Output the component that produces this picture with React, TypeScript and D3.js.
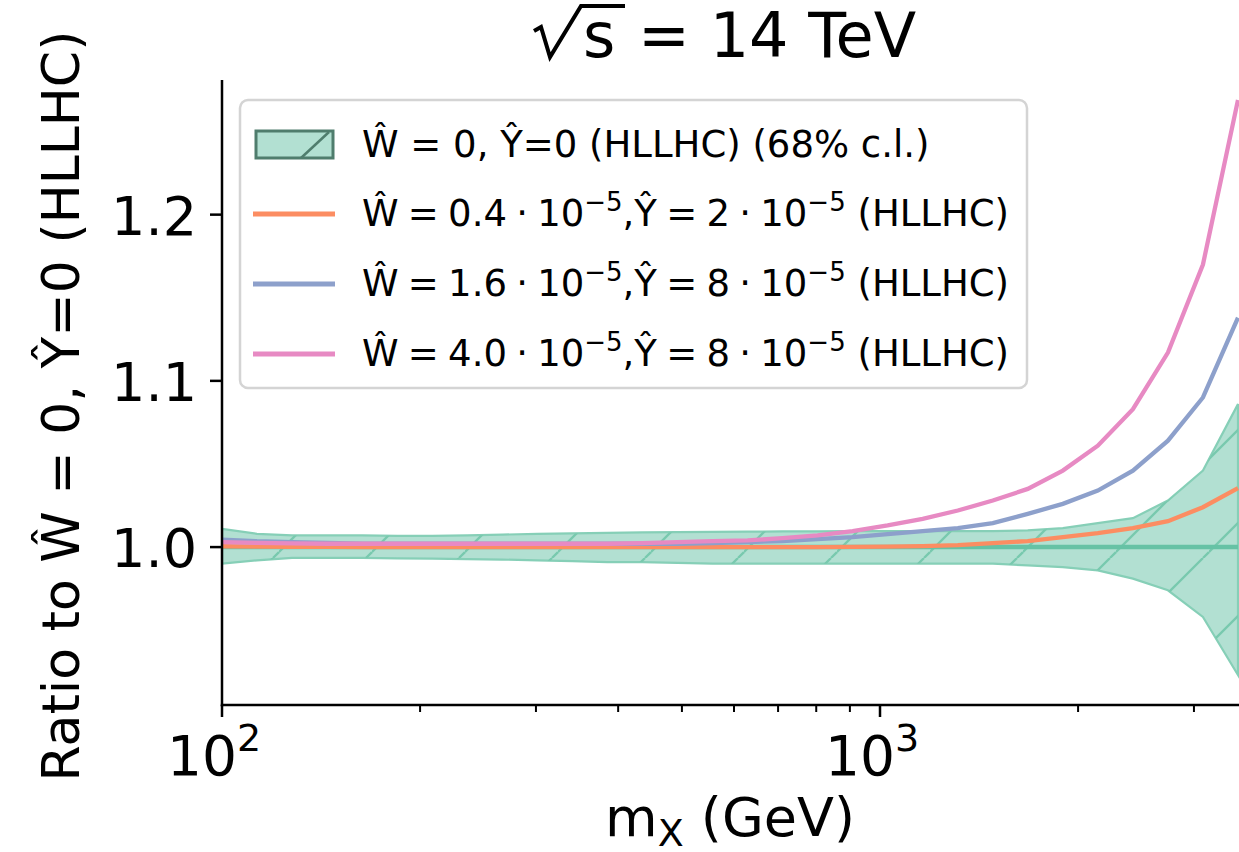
import React from "react";
import * as d3 from "d3";

// x nodes (GeV)
const massPoints = [100, 113.0, 127.8, 144.5, 163.3, 184.6, 208.7, 235.9, 266.6, 301.4, 340.7, 385.2, 435.4, 492.2, 556.4, 629.0, 711.0, 803.7, 908.6, 1027, 1161, 1313, 1484, 1677, 1896, 2143, 2423, 2739, 3096, 3500];

// 68% c.l. band of the SM (W=0, Y=0) ratio
const bandUpper = [1.011, 1.008, 1.007, 1.007, 1.007, 1.0068, 1.0068, 1.007, 1.0075, 1.008, 1.0082, 1.0085, 1.0088, 1.009, 1.0092, 1.0093, 1.0094, 1.0095, 1.0096, 1.0096, 1.0096, 1.0096, 1.0096, 1.010, 1.0114, 1.0144, 1.0174, 1.028, 1.046, 1.086];
const bandLower = [0.990, 0.992, 0.9935, 0.9935, 0.9935, 0.9932, 0.993, 0.9928, 0.9925, 0.992, 0.9915, 0.991, 0.991, 0.9905, 0.990, 0.990, 0.990, 0.990, 0.990, 0.990, 0.990, 0.990, 0.990, 0.989, 0.988, 0.986, 0.981, 0.974, 0.958, 0.923];
const centralRatio = [1, 1, 1, 1, 1, 1, 1, 1, 1, 1, 1, 1, 1, 1, 1, 1, 1, 1, 1, 1, 1, 1, 1, 1, 1, 1, 1, 1, 1, 1];

const orangeRatio = [1.0005, 1.0003, 1.0002, 1.0001, 1.0, 1.0, 1.0, 1.0, 1.0, 1.0, 1.0, 1.0, 1.0, 1.0, 1.0, 1.0, 1.0, 1.0, 1.0001, 1.0003, 1.0006, 1.0012, 1.0024, 1.0036, 1.006, 1.0084, 1.0114, 1.0156, 1.024, 1.0355];
const blueRatio = [1.0045, 1.0035, 1.003, 1.0025, 1.002, 1.002, 1.002, 1.002, 1.002, 1.002, 1.002, 1.002, 1.002, 1.002, 1.0024, 1.003, 1.0036, 1.0048, 1.006, 1.0078, 1.0096, 1.0114, 1.0144, 1.020, 1.026, 1.034, 1.046, 1.064, 1.090, 1.138];
const pinkRatio = [1.003, 1.0025, 1.0022, 1.002, 1.002, 1.002, 1.002, 1.002, 1.002, 1.002, 1.002, 1.002, 1.0024, 1.003, 1.0036, 1.004, 1.0054, 1.007, 1.0096, 1.013, 1.017, 1.022, 1.028, 1.035, 1.046, 1.061, 1.083, 1.117, 1.170, 1.269];

const xMajorTicks = [100, 1000];
const xMajorExp = ["2", "3"];
const xMinorTicks = [200, 300, 400, 500, 600, 700, 800, 900, 2000, 3000];
const yTicks = [1.0, 1.1, 1.2];
const yTickLabels = ["1.0", "1.1", "1.2"];

const GREEN = "#66c2a5";
const ORANGE = "#fc8d62";
const BLUE = "#8da0cb";
const PINK = "#e78ac3";

const FONT = "DejaVu Sans, sans-serif";
const SP = "\u2005";

export default function App() {
  const left = 222, right = 1238, top = 80, bottom = 705;
  const x = d3.scaleLog().domain([100, 3500]).range([left, right]);
  const y = d3.scaleLinear().domain([0.905, 1.281]).range([bottom, top]);

  const line = (vals: number[]) =>
    d3.line<number>().x((_, i) => x(massPoints[i])).y((v) => y(v))(vals) || "";
  const area =
    d3.area<number>()
      .x((_, i) => x(massPoints[i]))
      .y0((_, i) => y(bandLower[i]))
      .y1((_, i) => y(bandUpper[i]))(bandUpper) || "";

  const supSize = 26;
  const legendRows = [
    { color: ORANGE, parts: [`Ŵ${SP}=${SP}0.4${SP}·${SP}10`, "−5", `,Ŷ${SP}=${SP}2${SP}·${SP}10`, "−5", " (HLLHC)"] },
    { color: BLUE, parts: [`Ŵ${SP}=${SP}1.6${SP}·${SP}10`, "−5", `,Ŷ${SP}=${SP}8${SP}·${SP}10`, "−5", " (HLLHC)"] },
    { color: PINK, parts: [`Ŵ${SP}=${SP}4.0${SP}·${SP}10`, "−5", `,Ŷ${SP}=${SP}8${SP}·${SP}10`, "−5", " (HLLHC)"] },
  ];
  const rowLineY = [214, 284, 354];

  return (
    <div style={{ position: "absolute", left: 0, top: 0 }}>
      <svg width={1239} height={852} style={{ display: "block", background: "#fff" }} fontFamily={FONT}>
        <defs>
          <pattern id="hatch" patternUnits="userSpaceOnUse" width={93} height={93}>
            <line x1={0} y1={87} x2={87} y2={0} stroke="#78c9ae" strokeWidth={2.4} />
            <line x1={87} y1={93} x2={93} y2={87} stroke="#78c9ae" strokeWidth={2.4} />
            <line x1={-6} y1={93} x2={0} y2={87} stroke="#78c9ae" strokeWidth={2.4} />
          </pattern>
          <clipPath id="plotclip">
            <rect x={left} y={0} width={right - left + 2} height={bottom} />
          </clipPath>
        </defs>

        <g clipPath="url(#plotclip)">
          <path d={area} fill="#b2e0d2" stroke="#86cfb7" strokeWidth={2.2} />
          <path d={area} fill="url(#hatch)" stroke="none" />
          <path d={line(centralRatio)} fill="none" stroke={GREEN} strokeWidth={4.5} />
          <path d={line(orangeRatio)} fill="none" stroke={ORANGE} strokeWidth={4.3} />
          <path d={line(blueRatio)} fill="none" stroke={BLUE} strokeWidth={4.3} />
          <path d={line(pinkRatio)} fill="none" stroke={PINK} strokeWidth={4.3} />
        </g>

        {/* spines */}
        <line x1={left} y1={top} x2={left} y2={bottom + 1.2} stroke="#000" strokeWidth={2.5} />
        <line x1={left - 1.2} y1={bottom} x2={right + 2} y2={bottom} stroke="#000" strokeWidth={2.5} />

        {/* x ticks */}
        {xMajorTicks.map((t, i) => (
          <g key={"xm" + t}>
            <line x1={x(t)} x2={x(t)} y1={bottom} y2={bottom + 12} stroke="#000" strokeWidth={2.5} />
            <text x={x(t) - 8} y={775} fontSize={55} textAnchor="middle" fill="#000">
              10<tspan fontSize={38} dy={-24}>{xMajorExp[i]}</tspan>
            </text>
          </g>
        ))}
        {xMinorTicks.map((t) => (
          <line key={"xn" + t} x1={x(t)} x2={x(t)} y1={bottom} y2={bottom + 7} stroke="#000" strokeWidth={2} />
        ))}

        {/* y ticks */}
        {yTicks.map((t, i) => (
          <g key={"y" + t}>
            <line x1={left - 12} x2={left} y1={y(t)} y2={y(t)} stroke="#000" strokeWidth={2.5} />
            <text x={197} y={y(t) + 20} fontSize={54} textAnchor="end" fill="#000">
              {yTickLabels[i]}
            </text>
          </g>
        ))}

        {/* title: sqrt(s) = 14 TeV */}
        <path d="M534,31 L541,27 L550,57 L581,6 L625,6" fill="none" stroke="#000" strokeWidth={4} strokeLinejoin="miter" />
        <text x={583} y={57} fontSize={62} fill="#000">s</text>
        <text x={638} y={57} fontSize={62} fill="#000">= 14 TeV</text>

        {/* x label */}
        <text x={730} y={836} fontSize={54} textAnchor="middle" fill="#000">
          m<tspan fontSize={38} dy={10}>X</tspan>
          <tspan dy={-10}> (GeV)</tspan>
        </text>

        {/* y label */}
        <text
          transform={`translate(79,406) rotate(-90)`}
          fontSize={52}
          textAnchor="middle"
          fill="#000"
        >
          Ratio to Ŵ = 0, Ŷ=0 (HLLHC)
        </text>

        {/* legend */}
        <rect x={240} y={100} width={787} height={288} rx={8} fill="#fff" fillOpacity={0.8} stroke="#d4d4d4" strokeWidth={2.5} />
        <rect x={256} y={131} width={77} height={27} fill="#b2e0d2" stroke="#4f7d6d" strokeWidth={3} />
        <line x1={301} y1={158} x2={329} y2={132} stroke="#4f7d6d" strokeWidth={2.5} />
        <text x={362} y={157} fontSize={37} fill="#000">
          Ŵ = 0, Ŷ=0 (HLLHC) (68% c.l.)
        </text>
        {legendRows.map((r, i) => (
          <g key={"lg" + i}>
            <line x1={253} x2={335} y1={rowLineY[i]} y2={rowLineY[i]} stroke={r.color} strokeWidth={5} />
            <text x={362} y={rowLineY[i] + 12} fontSize={37} fill="#000">
              {r.parts[0]}
              <tspan fontSize={supSize} dy={-15}>{r.parts[1]}</tspan>
              <tspan dy={15}>{r.parts[2]}</tspan>
              <tspan fontSize={supSize} dy={-15}>{r.parts[3]}</tspan>
              <tspan dy={15}>{r.parts[4]}</tspan>
            </text>
          </g>
        ))}
      </svg>
    </div>
  );
}
